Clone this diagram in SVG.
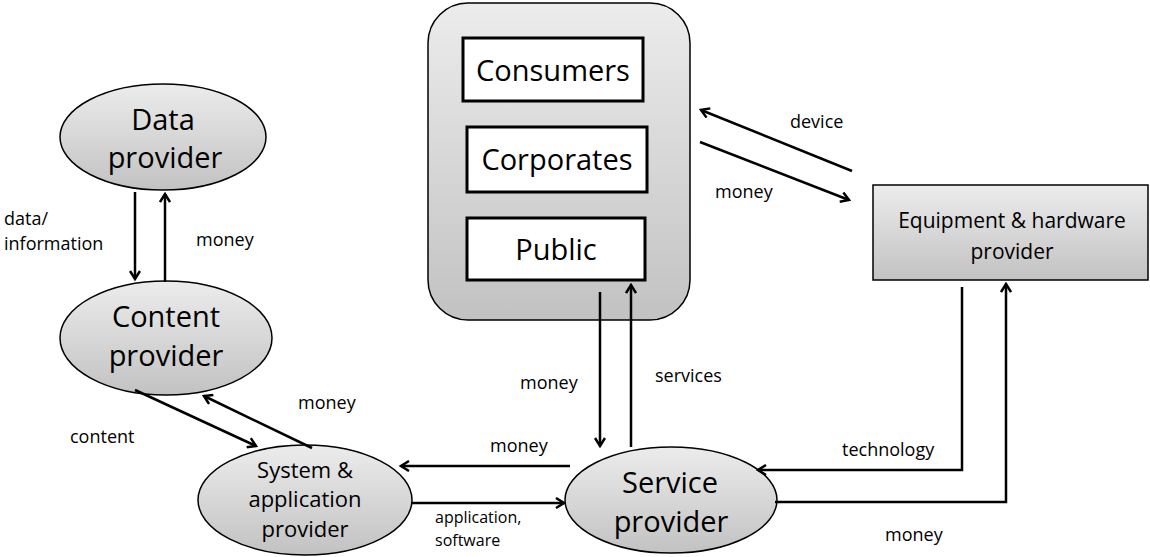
<svg xmlns="http://www.w3.org/2000/svg" width="1150" height="557" viewBox="0 0 1150 557">
<defs>
<linearGradient id="g" x1="0" y1="0" x2="0" y2="1">
<stop offset="0" stop-color="#ececec"/>
<stop offset="1" stop-color="#c2c2c2"/>
</linearGradient>
<marker id="ah" viewBox="0 0 12 12" refX="10" refY="6" markerWidth="12" markerHeight="12" markerUnits="userSpaceOnUse" orient="auto">
<path d="M2,1 L10,6 L2,11" fill="none" stroke="#000" stroke-width="2.5"/>
</marker>
<style>
.n{fill:url(#g);stroke:#000;stroke-width:1.5}
.b{fill:#fff;stroke:#000;stroke-width:3}
.big{font-family:"Open Sans","Noto Sans",sans-serif;font-size:29px;fill:#000;text-anchor:middle}
.mid{font-family:"Open Sans","Noto Sans",sans-serif;font-size:22px;fill:#000;text-anchor:middle}
.s{font-family:"Open Sans","Noto Sans",sans-serif;font-size:18px;fill:#000}
.c{fill:none;stroke:#000;stroke-width:2.5;marker-end:url(#ah)}
</style>
</defs>
<rect width="1150" height="557" fill="#fff"/>
<g id="customers">
<rect x="428" y="3" width="262" height="317" rx="40" class="n"/>
</g>
<g id="consumers">
<rect x="463" y="38" width="180" height="63" class="b"/>
<text x="553" y="81" class="big">Consumers</text>
</g>
<g id="corporates">
<rect x="467" y="127" width="180" height="65" class="b"/>
<text x="557" y="170" class="big">Corporates</text>
</g>
<g id="public">
<rect x="467" y="218" width="178" height="62" class="b"/>
<text x="556" y="260" class="big">Public</text>
</g>
<g id="data-provider">
<ellipse cx="163" cy="137" rx="103" ry="53" class="n"/>
<text x="163" y="130" class="big">Data</text>
<text x="165" y="168" class="big">provider</text>
</g>
<g id="content-provider">
<ellipse cx="166" cy="338" rx="106" ry="57" class="n"/>
<text x="166" y="327" class="big">Content</text>
<text x="166" y="366" class="big">provider</text>
</g>
<g id="system-provider">
<ellipse cx="305" cy="500" rx="107" ry="55" class="n"/>
<text x="305" y="478" class="mid">System &amp;</text>
<text x="305" y="507" class="mid">application</text>
<text x="305" y="537" class="mid">provider</text>
</g>
<g id="service-provider">
<ellipse cx="671" cy="500" rx="106" ry="53" class="n"/>
<text x="670" y="493" class="big">Service</text>
<text x="671" y="532" class="big">provider</text>
</g>
<g id="equipment-provider">
<rect x="873" y="185" width="275" height="95" class="n"/>
<text x="1012" y="228" class="mid" style="font-size:21px">Equipment &amp; hardware</text>
<text x="1012" y="259" class="mid" style="font-size:21px">provider</text>
</g>
<g id="connectors">
<line x1="135" y1="192" x2="135" y2="279" class="c"/>
<line x1="165" y1="282" x2="165" y2="194" class="c"/>
<line x1="135" y1="390" x2="256" y2="446" class="c"/>
<line x1="312" y1="448" x2="204" y2="396" class="c"/>
<line x1="570" y1="466" x2="401" y2="466" class="c"/>
<line x1="412" y1="503" x2="564" y2="503" class="c"/>
<line x1="600" y1="292" x2="600" y2="446" class="c"/>
<line x1="631" y1="447" x2="631" y2="285" class="c"/>
<line x1="852" y1="171" x2="701" y2="110" class="c"/>
<line x1="700" y1="142" x2="849" y2="200" class="c"/>
<polyline points="962,287 962,470 758,470" class="c"/>
<polyline points="775,502 1006,502 1006,284" class="c"/>
</g>
<g id="labels">
<text x="4" y="225" class="s">data/</text>
<text x="4" y="250" class="s">information</text>
<text x="196" y="246" class="s">money</text>
<text x="70" y="443" class="s">content</text>
<text x="298" y="409" class="s">money</text>
<text x="490" y="452" class="s">money</text>
<text x="435" y="523" class="s" style="font-size:16px">application,</text>
<text x="435" y="546" class="s" style="font-size:16px">software</text>
<text x="520" y="389" class="s">money</text>
<text x="655" y="382" class="s">services</text>
<text x="790" y="128" class="s">device</text>
<text x="715" y="198" class="s">money</text>
<text x="842" y="456" class="s">technology</text>
<text x="885" y="541" class="s">money</text>
</g>
</svg>
